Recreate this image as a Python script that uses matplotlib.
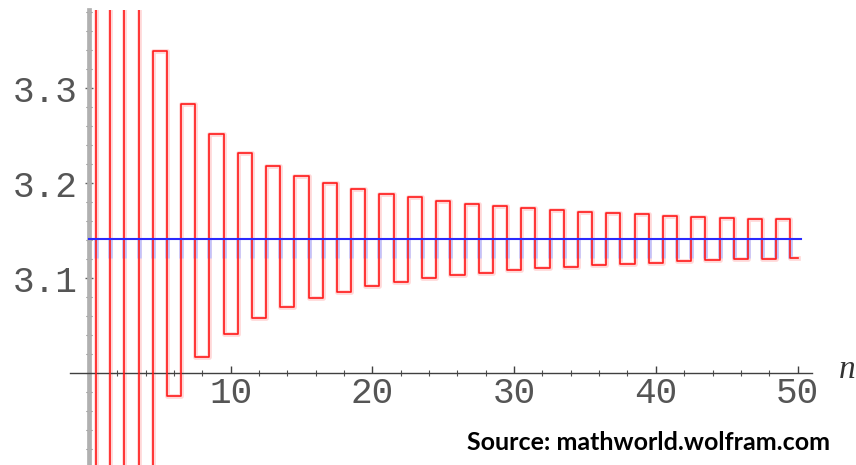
import matplotlib
matplotlib.use("Agg")
import matplotlib.pyplot as plt
from matplotlib.ticker import FixedLocator, MultipleLocator, FixedFormatter

# Partial sums of the Leibniz series 4*(1 - 1/3 + 1/5 - ...), n terms (n = 0..50)
n_values = list(range(0, 51))
partial_sums = [
    0.0,
    4.0000, 2.6667, 3.4667, 2.8952, 3.3397, 2.9760, 3.2837, 3.0171, 3.2524, 3.0418,
    3.2323, 3.0584, 3.2184, 3.0703, 3.2081, 3.0792, 3.2003, 3.0861, 3.1941, 3.0916,
    3.1892, 3.0962, 3.1851, 3.0999, 3.1816, 3.1031, 3.1786, 3.1059, 3.1761, 3.1083,
    3.1738, 3.1104, 3.1719, 3.1122, 3.1702, 3.1138, 3.1686, 3.1153, 3.1672, 3.1166,
    3.1660, 3.1178, 3.1648, 3.1189, 3.1638, 3.1199, 3.1629, 3.1208, 3.1620, 3.1216,
]
pi_value = 3.14159
y_tick_values = [3.1, 3.2, 3.3]
y_tick_labels = ["3.1", "3.2", "3.3"]
x_tick_values = [10, 20, 30, 40, 50]
x_tick_labels = ["10", "20", "30", "40", "50"]

fig = plt.figure(figsize=(8.56, 4.65), dpi=100)
ax = fig.add_axes([70/856, 0, (812-70)/856, (465-10)/465])
ax.set_xlim(-1.34, 51.02)
ax.set_ylim(2.9035, 3.3824)

# step curve: pale halo
ax.step(n_values, partial_sums, where="mid", color="#ffb8b8", lw=3.4, alpha=0.55, zorder=2)

# pale lilac artefacts below pi line at each jump
jumps = [n + 0.5 for n in n_values[:-1]]
ax.vlines(jumps, partial_sums[-1], pi_value, color="#c3c3fa", lw=3.3, zorder=2.5)

# red line
ax.step(n_values, partial_sums, where="mid", color="#ff1a1a", lw=1.2, zorder=3)

# pi line
ax.plot([0, 50.25], [pi_value, pi_value], color="#2a2aff", lw=1.5, zorder=4)

# spines
for s in ["top", "right"]:
    ax.spines[s].set_visible(False)
ax.spines["left"].set_position(("data", 0))
ax.spines["left"].set_color("#b0b0b0")
ax.spines["left"].set_linewidth(3.4)
ax.spines["bottom"].set_position(("data", 3.0))
ax.spines["bottom"].set_color("#404040")
ax.spines["bottom"].set_linewidth(1.0)
ax.axvline(0, color="#808080", lw=0.8, zorder=1.5)

mono = "Liberation Mono"
ax.yaxis.set_major_locator(FixedLocator(y_tick_values))
ax.yaxis.set_major_formatter(FixedFormatter(y_tick_labels))
ax.yaxis.set_minor_locator(MultipleLocator(0.02))
ax.xaxis.set_major_locator(FixedLocator(x_tick_values))
ax.xaxis.set_major_formatter(FixedFormatter(x_tick_labels))
ax.xaxis.set_minor_locator(MultipleLocator(2))

ax.tick_params(axis="y", which="major", direction="inout", length=6, width=1, color="#606060",
               pad=5, labelsize=26, labelcolor="#555555")
ax.tick_params(axis="y", which="minor", direction="inout", length=4, width=0.8, color="#707070")
ax.tick_params(axis="x", which="major", direction="in", length=5, width=1, color="#404040",
               pad=2, labelsize=26, labelcolor="#555555")
ax.tick_params(axis="x", which="minor", direction="inout", length=4, width=0.8, color="#505050")
for lab in ax.get_xticklabels() + ax.get_yticklabels():
    lab.set_fontfamily(mono)

ax.text(52.9, 3.004, "n", fontsize=24, fontstyle="italic", family="Liberation Serif",
        color="#333333", ha="left", va="center", clip_on=False)

fig.text(830/856, 15/465, "Source: mathworld.wolfram.com", family="Lato", fontweight="bold",
         fontsize=18, ha="right", va="baseline", color="black")

fig.savefig("out.png", dpi=100)
